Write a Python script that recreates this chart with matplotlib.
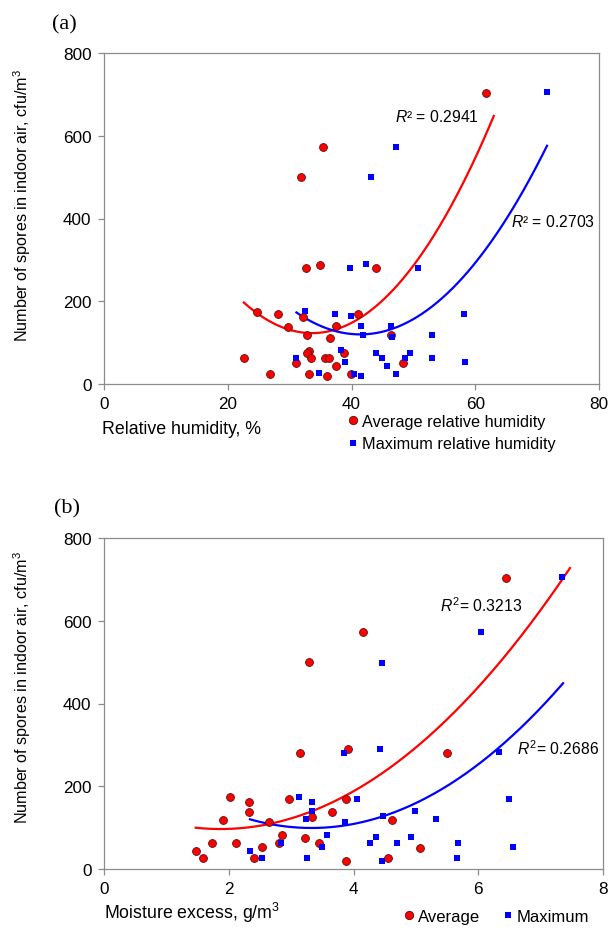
import numpy as np
import matplotlib
matplotlib.use("Agg")
import matplotlib.pyplot as plt
from matplotlib.lines import Line2D

plt.rcParams['font.family'] = ['Liberation Sans', 'DejaVu Sans']
plt.rcParams['mathtext.fontset'] = 'custom'
plt.rcParams['mathtext.rm'] = 'Liberation Sans'
plt.rcParams['mathtext.it'] = 'Liberation Sans:italic'

# panel (a): relative humidity, %
rh_avg_x = [61.8, 35.4, 31.8, 32.6, 34.9, 43.9, 24.8, 28.2, 32.1, 41.0,
            29.8, 37.5, 32.8, 36.5, 46.4, 22.6, 33.2, 32.8, 33.4, 35.7,
            36.3, 38.8, 31.0, 37.5, 48.3, 26.9, 33.2, 36.0, 39.9]
rh_avg_y = [704, 573, 500, 280, 287, 280, 175, 168, 162, 168,
            138, 139, 119, 112, 119, 63, 80, 74, 63, 63,
            63, 75, 50, 43, 50, 24, 24, 19, 24]
rh_max_x = [71.6, 47.2, 43.2, 39.8, 42.3, 50.8, 58.2, 32.5, 37.4, 39.9,
            41.6, 46.4, 41.8, 46.5, 53.0, 38.3, 44.0, 49.4, 31.1, 44.9,
            48.7, 53.0, 38.9, 58.4, 45.7, 34.8, 40.4, 47.2, 41.6]
rh_max_y = [705, 573, 500, 281, 289, 281, 169, 176, 169, 164,
            139, 139, 119, 113, 119, 81, 76, 76, 64, 64,
            64, 64, 52, 52, 43, 26, 25, 25, 20]

# panel (b): moisture excess, g/m3
me_avg_x = [3.29, 3.15, 3.91, 2.02, 2.33, 2.96, 3.88, 2.33, 1.91, 2.64,
            3.33, 3.65, 1.73, 2.12, 2.86, 2.80, 3.22, 3.45, 2.53, 1.47,
            1.58, 2.41, 3.88, 4.16, 6.44, 5.50, 4.62, 5.06, 4.55]
me_avg_y = [500, 281, 289, 175, 163, 169, 168, 138, 119, 114,
            126, 138, 63, 63, 82, 63, 76, 63, 52, 43,
            26, 26, 19, 573, 704, 281, 119, 51, 26]
me_max_x = [3.84, 3.12, 3.33, 4.05, 3.34, 3.24, 3.86, 3.57, 2.84, 3.49,
            2.34, 2.54, 3.26, 7.35, 6.05, 4.46, 4.43, 6.33, 6.49, 4.48,
            4.98, 5.32, 4.36, 4.27, 4.69, 4.92, 5.68, 6.56, 5.66, 4.45]
me_max_y = [281, 175, 163, 169, 139, 120, 114, 83, 64, 52,
            44, 27, 27, 706, 574, 498, 289, 282, 170, 127,
            139, 120, 77, 64, 64, 77, 64, 52, 27, 20]

# trendline ranges (x start, x end)
rh_avg_fit = [22.6, 63.0]
rh_max_fit = [31.1, 71.6]
me_avg_fit = [1.47, 7.47]
me_max_fit = [2.34, 7.36]

r2_labels_a = ['0.2941', '0.2703']
r2_labels_b = ['0.3213', '0.2686']

red = '#ff0000'
blue = '#0000ff'
grey = '#8c8c8c'

W, H = 613, 929
fig = plt.figure(figsize=(W / 100, H / 100), dpi=100)
ax_a = fig.add_axes([104 / W, (H - 385) / H, 495 / W, 331 / H])
ax_b = fig.add_axes([104 / W, (H - 870) / H, 499 / W, 331 / H])


def trend(ax, x, y, rng, color):
    c = np.polyfit(x, y, 2)
    xs = np.linspace(rng[0], rng[1], 200)
    ax.plot(xs, np.polyval(c, xs), color=color, lw=1.6, zorder=3)


def style(ax, xmax, xstep):
    ax.set_xlim(0, xmax)
    ax.set_ylim(0, 800)
    ax.set_xticks(np.arange(0, xmax + 0.001, xstep))
    ax.set_yticks([0, 200, 400, 600, 800])
    for s in ax.spines.values():
        s.set_color(grey)
        s.set_linewidth(0.9)
    ax.tick_params(direction='out', length=4, width=0.9, color=grey,
                   labelsize=12.3, pad=5)


for ax, ax_data in [(ax_a, (rh_avg_x, rh_avg_y, rh_max_x, rh_max_y, rh_avg_fit, rh_max_fit)),
                    (ax_b, (me_avg_x, me_avg_y, me_max_x, me_max_y, me_avg_fit, me_max_fit))]:
    ax_x, ax_y, mx_x, mx_y, f1, f2 = ax_data
    ax.scatter(ax_x, ax_y, s=32, marker='o', color=red, edgecolors='#5a1010',
               linewidths=0.6, zorder=4)
    ax.scatter(mx_x, mx_y, s=22, marker='s', color=blue, linewidths=0, zorder=4)
    trend(ax, ax_x, ax_y, f1, red)
    trend(ax, mx_x, mx_y, f2, blue)

style(ax_a, 80, 20)
style(ax_b, 8, 2)

ax_a.text(437, H - 117.5, r'$\mathit{R}$² = ' + r2_labels_a[0], transform=None,
          ha='center', va='center', fontsize=11.3)
ax_a.text(553, H - 222.5, r'$\mathit{R}$² = ' + r2_labels_a[1], transform=None,
          ha='center', va='center', fontsize=11.3)
ax_b.text(481, H - 606, r'$\mathit{R}^{2}$= ' + r2_labels_b[0], transform=None,
          ha='center', va='center', fontsize=11.3)
ax_b.text(558, H - 749, r'$\mathit{R}^{2}$= ' + r2_labels_b[1], transform=None,
          ha='center', va='center', fontsize=11.3)

ylab = r'Number of spores in indoor air, cfu/m$^3$'
fig.text(22 / W, (H - 205) / H, ylab, rotation=90, ha='center', va='center', fontsize=11.6)
fig.text(22 / W, (H - 687) / H, ylab, rotation=90, ha='center', va='center', fontsize=11.6)

fig.text(102 / W, (H - 430) / H, 'Relative humidity, %', ha='left', va='center', fontsize=12.8)
fig.text(104 / W, (H - 913) / H, r'Moisture excess, g/m$^3$', ha='left', va='center', fontsize=12.8)

fig.text(52 / W, (H - 25) / H, '(a)', family='Liberation Serif', ha='left', va='center', fontsize=16)
fig.text(54 / W, (H - 509) / H, '(b)', family='Liberation Serif', ha='left', va='center', fontsize=16)

h_avg = Line2D([], [], ls='none', marker='o', ms=6, mfc=red, mec='#5a1010', mew=0.6)
h_max = Line2D([], [], ls='none', marker='s', ms=5, mfc=blue, mec=blue, mew=0)

fig.legend([h_avg, h_max], ['Average relative humidity', 'Maximum relative humidity'],
           loc='upper left', bbox_to_anchor=(347 / W, (H - 415) / H), frameon=False,
           fontsize=11.7, handlelength=0.7, handletextpad=0.2, labelspacing=0.45,
           borderpad=0, borderaxespad=0)
fig.legend([h_avg, h_max], ['Average', 'Maximum'], ncol=2,
           loc='upper left', bbox_to_anchor=(403 / W, (H - 910) / H), frameon=False,
           fontsize=12, handlelength=0.7, handletextpad=0.2, columnspacing=1.3,
           borderpad=0, borderaxespad=0)

fig.savefig('out.png', dpi=100)
